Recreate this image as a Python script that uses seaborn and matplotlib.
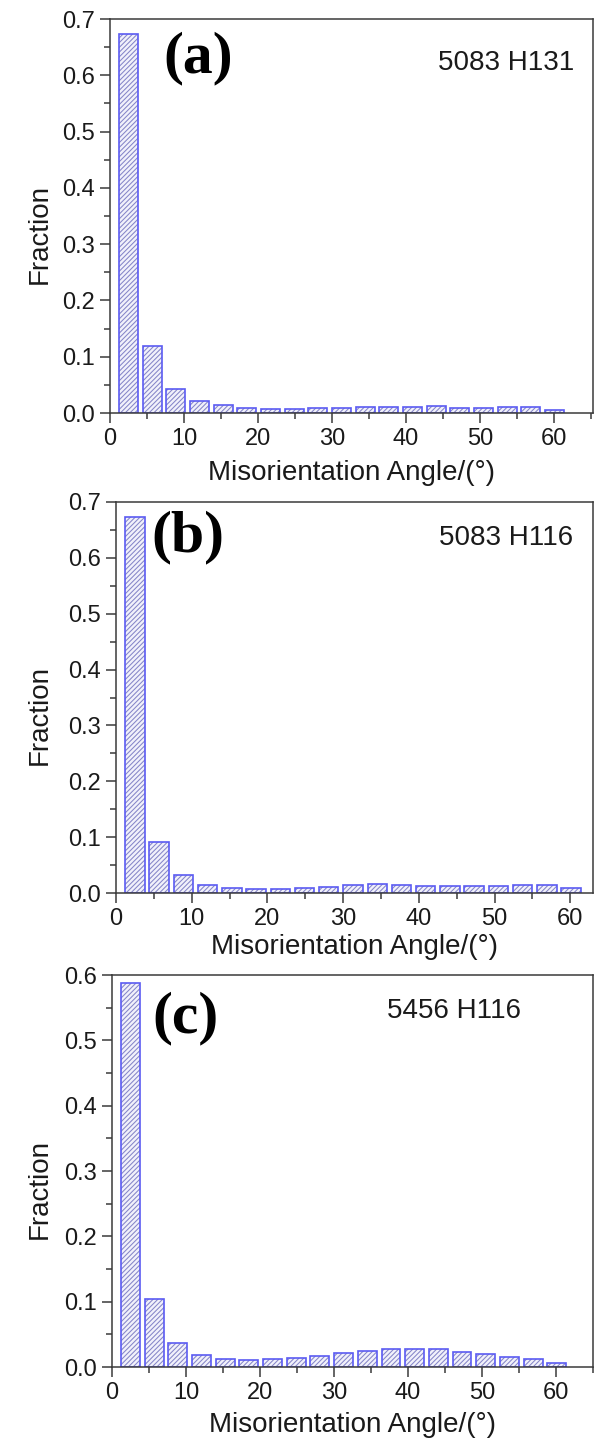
import matplotlib
matplotlib.use("Agg")
import matplotlib.pyplot as plt
from matplotlib.ticker import MultipleLocator
import seaborn as sns
import pandas as pd

# ---- data ----
angles = [2.5, 5.7, 8.9, 12.1, 15.3, 18.5, 21.7, 24.9, 28.1, 31.3,
          34.5, 37.7, 40.9, 44.1, 47.3, 50.5, 53.7, 56.9, 60.1]
frac_5083_h131 = [0.674, 0.119, 0.042, 0.022, 0.015, 0.009, 0.007, 0.007, 0.008, 0.009,
                  0.010, 0.010, 0.010, 0.012, 0.008, 0.008, 0.010, 0.010, 0.005]
frac_5083_h116 = [0.673, 0.092, 0.032, 0.015, 0.009, 0.007, 0.007, 0.009, 0.010, 0.014,
                  0.016, 0.014, 0.013, 0.013, 0.013, 0.013, 0.015, 0.014, 0.009]
frac_5456_h116 = [0.588, 0.1035, 0.037, 0.019, 0.012, 0.011, 0.012, 0.014, 0.017, 0.021,
                  0.024, 0.027, 0.027, 0.027, 0.023, 0.020, 0.016, 0.012, 0.006]
panel_tags = ["(a)", "(b)", "(c)"]
sample_names = ["5083 H131", "5083 H116", "5456 H116"]
x_label = "Misorientation Angle/(°)"
y_label = "Fraction"

sns.set_style("ticks")
plt.rcParams["font.family"] = ["Liberation Sans", "DejaVu Sans"]
plt.rcParams["hatch.linewidth"] = 0.75

W, H = 598, 1443
fig = plt.figure(figsize=(W / 100, H / 100), dpi=100)

# pixel boxes: left, right, top, bottom
boxes = [(110, 593, 19, 413), (116, 593, 502, 893), (112, 593, 975, 1367)]
xmaxs = [65.3, 63.0, 65.0]
ymaxs = [0.7, 0.7, 0.6]
tag_pos = [(0.110, 0.900), (0.075, 0.909), (0.083, 0.890)]
name_pos = [(0.961, 0.888, "right"), (0.958, 0.908, "right"), (0.850, 0.907, "right")]
xlabel_off = [60, 54, 58]

series = [frac_5083_h131, frac_5083_h116, frac_5456_h116]

edge_col = "#5b5bf2"
hatch_col = "#8585c8"
face_col = "#f1f1fb"
spine_col = "#3a3a3a"

for i in range(3):
    l, r, t, b = boxes[i]
    ax = fig.add_axes([l / W, 1 - b / H, (r - l) / W, (b - t) / H])
    df = pd.DataFrame({"angle": angles, "fraction": series[i]})
    # hatched fill layer
    sns.barplot(data=df, x="angle", y="fraction", native_scale=True, ax=ax,
                color=face_col, saturation=1, edgecolor=hatch_col, hatch="///////",
                linewidth=0, errorbar=None, width=0.8)
    # outline layer
    sns.barplot(data=df, x="angle", y="fraction", native_scale=True, ax=ax,
                color=edge_col, saturation=1, fill=False, linewidth=1.2,
                errorbar=None, width=0.8)

    ax.set_xlim(0, xmaxs[i])
    ax.set_ylim(0, ymaxs[i])
    ax.xaxis.set_major_locator(MultipleLocator(10))
    ax.xaxis.set_minor_locator(MultipleLocator(5))
    ax.yaxis.set_major_locator(MultipleLocator(0.1))
    ax.yaxis.set_minor_locator(MultipleLocator(0.05))
    ax.yaxis.set_major_formatter(plt.FormatStrFormatter("%.1f"))
    ax.tick_params(which="both", direction="out", top=False, right=False,
                   color=spine_col, width=1.1)
    ax.tick_params(which="major", length=7, labelsize=17, pad=4, labelcolor="#1a1a1a")
    ax.tick_params(which="minor", length=4)
    for s in ax.spines.values():
        s.set_visible(True)
        s.set_color(spine_col)
        s.set_linewidth(1.1)

    ax.set_xlabel(x_label, fontsize=20, color="#1a1a1a")
    ax.xaxis.set_label_coords(0.5, -xlabel_off[i] / (b - t))
    ax.xaxis.label.set_va("center")
    ax.set_ylabel(y_label, fontsize=20, color="#1a1a1a", va="center")
    ax.yaxis.set_label_coords((40 - l) / (r - l), 0.454)

    tx, ty = tag_pos[i]
    ax.text(tx, ty, panel_tags[i], transform=ax.transAxes, ha="left", va="center",
            fontsize=43, fontweight="bold", family=["Liberation Serif", "DejaVu Serif"],
            color="black")
    nx, ny, nha = name_pos[i]
    ax.text(nx, ny, sample_names[i], transform=ax.transAxes, ha=nha, va="center",
            fontsize=20, color="#1a1a1a")

fig.savefig("out.png", dpi=100)
